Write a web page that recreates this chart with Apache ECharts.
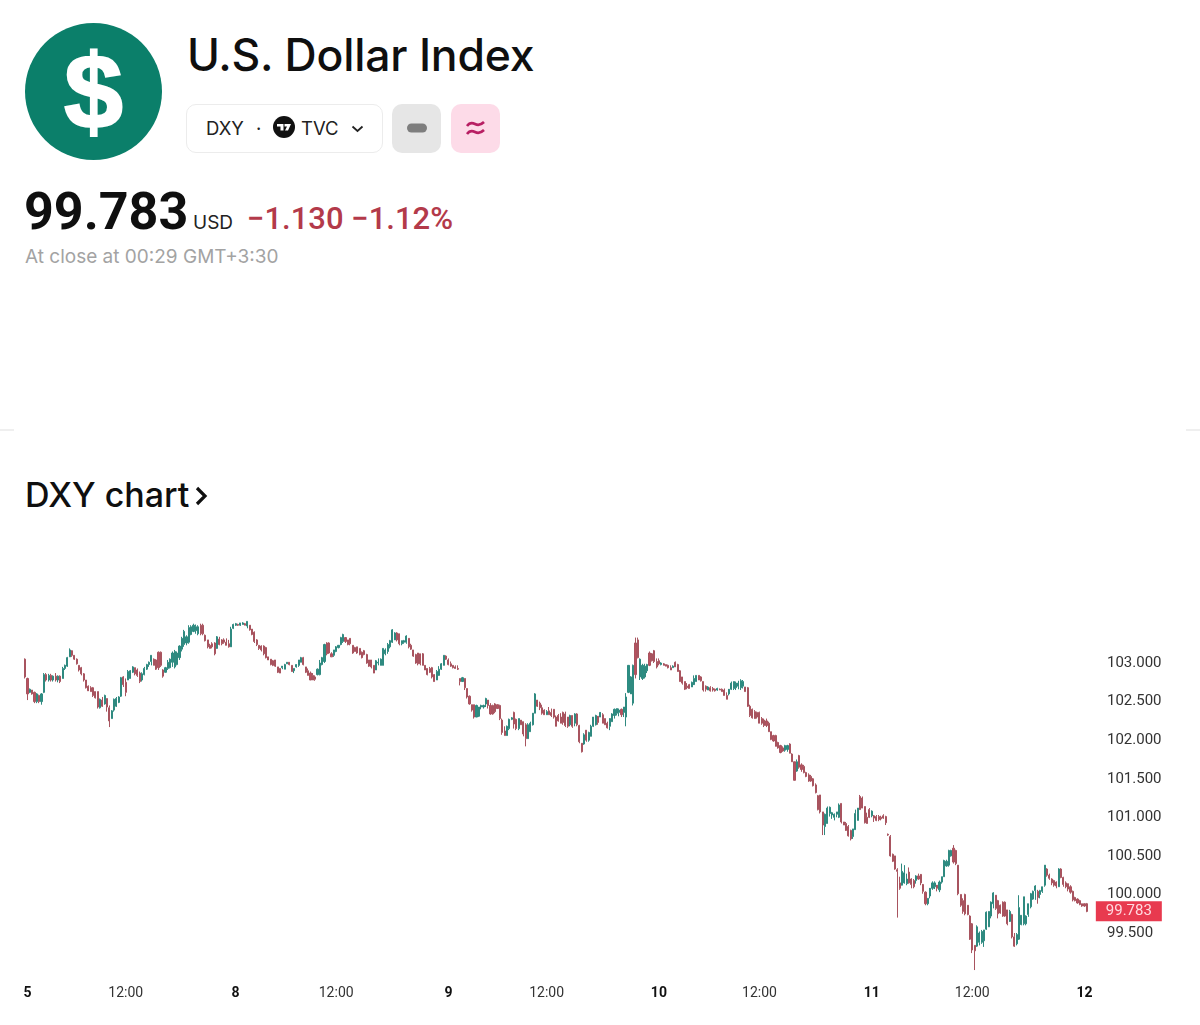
<!DOCTYPE html>
<html>
<head>
<meta charset="utf-8">
<title>DXY</title>
<script src="https://cdn.jsdelivr.net/npm/echarts@6/dist/echarts.min.js"></script>
<style>
html, body { margin: 0; padding: 0; background: #fff; }
#page { position: relative; width: 1200px; height: 1025px; overflow: hidden; font-family: Inter, "Noto Sans", sans-serif; color: #0f0f0f; }
#page > div, #page > svg { position: absolute; white-space: nowrap; }
#icon { left: 25px; top: 23px; width: 137px; height: 137px; border-radius: 50%; background: #0b7f6a; color: #fff; font: bold 106px/137px "Liberation Sans", sans-serif; text-align: center; -webkit-text-stroke: 2px #fff; }
#title { left: 187px; top: 29px; font-size: 44.5px; line-height: 52px; font-weight: 500; letter-spacing: -0.2px; }
#pill { left: 186px; top: 104px; width: 195px; height: 47px; border: 1px solid #ececec; border-radius: 10px; }
.pilltext { font-size: 18.5px; line-height: 24px; top: 116px; color: #222; }
.box { top: 104px; width: 49px; height: 49px; border-radius: 10px; }
#price { left: 24px; top: 181px; font-family: Roboto, sans-serif; font-size: 52px; line-height: 62px; font-weight: 700; }
#usd { left: 193px; top: 210px; font-size: 19px; line-height: 26px; color: #222; }
#change { left: 247px; top: 201px; font-family: Roboto, sans-serif; font-size: 31px; line-height: 36px; font-weight: 500; color: #b33a4a; }
#closed { left: 25px; top: 244px; font-size: 19px; line-height: 26px; color: #a3a3a3; }
#chartTitle { left: 25px; top: 473px; font-size: 34px; line-height: 44px; font-weight: 500; }
.rule { top: 429px; height: 2px; width: 14px; background: #efefef; }
#chart { left: 0; top: 560px; width: 1200px; height: 465px; }
</style>
</head>
<body>
<div id="page">
  <div id="icon">$</div>
  <div id="title">U.S. Dollar Index</div>
  <div id="pill"></div>
  <div class="pilltext" style="left:206px">DXY</div>
  <div class="pilltext" style="left:256px">·</div>
  <svg style="left:273px;top:116px" width="22" height="22" viewBox="0 0 22 22">
    <circle cx="11" cy="11" r="11" fill="#111"/>
    <path d="M4 8h6.5v6.5h-3v-4H4zM11.5 8h6.5l-3 6.5h-3l2-4h-2.5z" fill="#fff"/>
  </svg>
  <div class="pilltext" style="left:301px">TVC</div>
  <svg style="left:351px;top:125px" width="13" height="8" viewBox="0 0 13 8">
    <path d="M1.5 1.5L6.5 6L11.5 1.5" fill="none" stroke="#222" stroke-width="1.8"/>
  </svg>
  <div class="box" style="left:392px;background:#e6e6e6"></div>
  <svg style="left:407px;top:123px" width="20" height="10" viewBox="0 0 20 10">
    <rect x="0" y="0.5" width="20" height="9" rx="4.5" fill="#7e7e7e"/>
  </svg>
  <div class="box" style="left:451px;background:#fddbe8"></div>
  <svg style="left:465px;top:118px" width="21" height="20" viewBox="0 0 21 20">
    <path d="M2 8c3-4 6-3 8-2s5 2 9-2M2 16c3-4 6-3 8-2s5 2 9-2" fill="none" stroke="#b81f63" stroke-width="2.6"/>
  </svg>
  <div id="price">99.783</div>
  <div id="usd">USD</div>
  <div id="change">−1.130 −1.12%</div>
  <div id="closed">At close at 00:29 GMT+3:30</div>
  <div class="rule" style="left:0"></div>
  <div class="rule" style="left:1186px"></div>
  <div id="chartTitle">DXY chart</div>
  <svg style="left:194px;top:485px" width="14" height="22" viewBox="0 0 14 22">
    <path d="M3 3L11 11L3 19" fill="none" stroke="#0f0f0f" stroke-width="3.2"/>
  </svg>
  <div id="chart"></div>
</div>
<script>
// [open, close, low, high], 15 min candles
var day5 = [
[103.05,102.82,102.80,103.06],[102.80,102.60,102.52,102.81],[102.62,102.66,102.61,102.67],[102.65,102.60,102.59,102.65],[102.62,102.50,102.48,102.63],[102.50,102.60,102.48,102.61],[102.58,102.50,102.48,102.59],[102.50,102.60,102.46,102.61],
[102.62,102.85,102.61,102.87],[102.85,102.78,102.76,102.87],[102.78,102.84,102.76,102.86],[102.84,102.78,102.76,102.86],[102.78,102.83,102.76,102.84],[102.83,102.78,102.76,102.87],[102.78,102.83,102.75,102.84],[102.83,102.76,102.74,102.84],
[102.80,102.93,102.80,102.95],[102.93,102.97,102.91,102.98],[102.96,103.07,102.95,103.08],[103.08,103.17,103.08,103.19],[103.16,103.10,103.08,103.15],[103.10,103.05,103.04,103.10],[103.05,102.99,102.98,103.06],[102.97,102.91,102.89,102.97],
[102.94,102.86,102.84,102.95],[102.86,102.78,102.76,102.87],[102.78,102.68,102.67,102.78],[102.70,102.64,102.65,102.71],[102.68,102.63,102.63,102.70],[102.68,102.58,102.56,102.69],[102.63,102.55,102.54,102.63],[102.63,102.43,102.41,102.63],
[102.42,102.53,102.41,102.54],[102.52,102.44,102.43,102.56],[102.47,102.58,102.46,102.59],[102.54,102.43,102.37,102.54],[102.42,102.25,102.17,102.45],[102.28,102.38,102.28,102.39],[102.39,102.53,102.37,102.54],[102.44,102.54,102.43,102.56],
[102.49,102.56,102.48,102.57],[102.57,102.81,102.56,102.82],[102.82,102.72,102.69,102.83],[102.75,102.62,102.57,102.80],[102.78,102.89,102.78,102.91],[102.80,102.90,102.80,102.91],[102.88,102.95,102.87,102.96],[102.94,102.86,102.84,102.94],
[102.91,102.84,102.82,102.93],[102.87,102.76,102.74,102.89],[102.78,102.86,102.76,102.88],[102.85,102.93,102.84,102.95],[102.92,102.98,102.91,102.99],[102.98,103.01,102.95,103.02],[103.02,103.10,102.97,103.10],[103.05,102.97,102.97,103.06],[103.04,102.92,102.91,103.05],
[103.14,102.94,102.91,103.15],[103.14,102.97,102.95,103.15],[102.91,102.83,102.81,102.92],[102.88,102.94,102.89,102.95],[102.93,103.01,102.91,103.04],[102.94,103.05,102.93,103.06],[103.01,103.13,102.95,103.15],[102.95,103.15,102.93,103.17],
[102.98,103.13,102.97,103.15],[103.07,103.22,103.04,103.23],[103.18,103.32,103.15,103.34],[103.24,103.41,103.21,103.43],[103.26,103.34,103.23,103.36],[103.27,103.46,103.25,103.49],[103.37,103.47,103.36,103.49],[103.41,103.49,103.40,103.51],[103.42,103.47,103.38,103.50],
[103.38,103.47,103.36,103.49],[103.49,103.38,103.36,103.51],[103.49,103.38,103.36,103.51],[103.36,103.29,103.28,103.37],[103.30,103.21,103.19,103.30],[103.23,103.19,103.19,103.25],[103.25,103.21,103.19,103.27],[103.26,103.12,103.10,103.27],
[103.19,103.34,103.20,103.35],[103.31,103.24,103.23,103.34],[103.30,103.25,103.23,103.31],[103.30,103.27,103.25,103.32],[103.27,103.23,103.23,103.32],[103.25,103.21,103.20,103.30],[103.21,103.44,103.21,103.47],[103.45,103.50,103.44,103.51],[103.49,103.51,103.48,103.52],[103.50,103.49,103.48,103.51]
];
var day8 = [
[103.49,103.52,103.48,103.52],[103.50,103.52,103.50,103.53],[103.51,103.49,103.49,103.52],[103.48,103.54,103.45,103.54],[103.49,103.43,103.42,103.49],[103.44,103.37,103.36,103.44],[103.40,103.28,103.26,103.41],[103.30,103.24,103.22,103.31],[103.23,103.19,103.17,103.23],
[103.22,103.17,103.15,103.23],[103.22,103.12,103.10,103.23],[103.20,103.07,103.06,103.21],[103.08,103.04,103.04,103.08],[103.05,102.98,102.97,103.05],[103.03,102.97,102.96,103.04],[103.04,102.96,102.95,103.04],[102.95,102.88,102.87,102.95],[102.93,102.87,102.87,102.93],
[102.94,102.96,102.92,102.95],[102.92,102.98,102.92,102.99],[102.99,103.01,102.99,103.01],[103.01,102.98,102.97,103.01],[102.97,102.89,102.89,102.97],[102.90,102.93,102.87,102.93],[102.95,102.98,102.94,102.97],[102.97,103.04,102.95,103.04],
[103.01,103.07,103.01,103.08],[103.07,102.98,102.97,103.08],[102.95,102.88,102.87,102.95],[102.90,102.84,102.84,102.93],[102.87,102.78,102.78,102.89],[102.84,102.78,102.78,102.87],[102.82,102.79,102.77,102.84],[102.85,102.92,102.84,102.93],[102.85,103.00,102.84,103.04],
[102.98,103.07,102.97,103.08],[103.02,103.24,103.00,103.25],[103.26,103.12,103.10,103.27],[103.26,103.13,103.12,103.27],[103.12,103.08,103.08,103.14],[103.10,103.17,103.08,103.17],[103.15,103.21,103.14,103.22],[103.20,103.23,103.19,103.23],[103.24,103.33,103.23,103.34],[103.28,103.37,103.26,103.38],
[103.33,103.28,103.26,103.32],[103.30,103.24,103.23,103.30],[103.32,103.25,103.23,103.32],[103.23,103.13,103.12,103.23],[103.20,103.15,103.15,103.21],[103.21,103.13,103.12,103.21],[103.19,103.11,103.10,103.19],[103.14,103.07,103.06,103.15],
[103.16,103.11,103.10,103.17],[103.11,103.00,102.99,103.12],[103.04,102.96,102.95,103.04],[103.04,102.95,102.93,103.04],[102.97,102.87,102.89,102.97],[102.91,103.03,102.93,103.04],[103.00,103.01,102.97,103.06],[102.97,103.05,102.97,103.06],
[102.97,103.19,102.97,103.19],[103.12,103.17,103.10,103.19],[103.15,103.24,103.12,103.26],[103.21,103.29,103.19,103.30],[103.27,103.43,103.26,103.44],[103.30,103.39,103.30,103.40],[103.39,103.30,103.28,103.40],[103.38,103.25,103.23,103.38],
[103.25,103.29,103.23,103.29],[103.27,103.29,103.25,103.30],[103.27,103.35,103.25,103.36],[103.32,103.21,103.19,103.32],[103.23,103.18,103.17,103.25],[103.17,103.09,103.08,103.17],[103.11,103.00,102.99,103.12],[103.13,102.99,102.97,103.13],
[103.12,102.99,102.97,103.12],[103.12,102.97,102.97,103.13],[102.97,102.91,102.91,102.97],[102.93,102.85,102.84,102.93],[102.93,102.88,102.87,102.95],[102.94,102.82,102.80,102.95],[102.85,102.76,102.76,102.84],[102.78,102.89,102.80,102.91],
[102.84,102.92,102.89,102.96],[102.92,102.99,102.91,103.00],[102.97,103.10,102.97,103.10],[103.09,103.05,103.04,103.10],[103.04,102.98,102.97,103.06],[102.99,102.96,102.95,103.02]
];
var day9 = [
[102.97,102.94,102.93,102.97],[102.95,102.93,102.93,102.97],[102.93,102.92,102.91,102.97],
[102.80,102.76,102.71,102.80],[102.76,102.81,102.76,102.82],[102.80,102.68,102.65,102.80],[102.67,102.56,102.54,102.67],[102.57,102.47,102.46,102.58],[102.46,102.39,102.37,102.46],[102.46,102.30,102.28,102.46],[102.30,102.45,102.31,102.46],[102.31,102.43,102.30,102.43],
[102.43,102.45,102.40,102.46],[102.43,102.45,102.41,102.46],[102.47,102.54,102.43,102.55],[102.52,102.45,102.41,102.52],[102.45,102.34,102.33,102.48],[102.45,102.34,102.33,102.46],[102.47,102.37,102.35,102.48],[102.46,102.41,102.41,102.46],[102.45,102.28,102.26,102.46],[102.26,102.10,102.07,102.28],[102.12,102.06,102.06,102.18],[102.06,102.18,102.06,102.19],
[102.15,102.27,102.13,102.28],[102.27,102.29,102.26,102.30],[102.36,102.21,102.15,102.37],[102.27,102.15,102.13,102.28],[102.15,102.28,102.13,102.28],[102.26,102.20,102.20,102.26],[102.24,102.08,102.05,102.24],[102.20,102.02,101.92,102.22],[102.02,102.20,102.02,102.22],[102.11,102.22,102.11,102.24],[102.20,102.35,102.19,102.35],[102.35,102.60,102.35,102.61],
[102.52,102.44,102.43,102.52],[102.48,102.42,102.39,102.50],[102.42,102.35,102.33,102.46],[102.39,102.33,102.33,102.40],[102.33,102.37,102.33,102.39],[102.38,102.33,102.33,102.43],[102.36,102.32,102.30,102.41],[102.40,102.30,102.28,102.40],[102.30,102.18,102.18,102.32],[102.32,102.25,102.24,102.34],[102.30,102.22,102.22,102.35],[102.36,102.23,102.20,102.37],[102.34,102.19,102.17,102.37],
[102.30,102.18,102.16,102.30],[102.20,102.32,102.18,102.33],[102.32,102.18,102.16,102.32],[102.22,102.34,102.18,102.35],[102.34,102.20,102.18,102.35],[102.19,101.98,101.96,102.20],[101.96,101.85,101.84,101.96],[101.95,102.07,101.94,102.09],[102.13,102.00,101.98,102.13],[102.00,102.10,101.98,102.11],[102.05,102.18,102.05,102.20],[102.18,102.30,102.17,102.30],
[102.20,102.32,102.19,102.33],[102.31,102.23,102.20,102.30],[102.30,102.36,102.33,102.35],[102.33,102.22,102.22,102.35],[102.28,102.20,102.20,102.28],[102.22,102.16,102.15,102.24],[102.18,102.28,102.13,102.26],[102.24,102.34,102.24,102.35],[102.32,102.40,102.28,102.41],[102.35,102.41,102.32,102.41],[102.36,102.39,102.31,102.41],[102.40,102.33,102.30,102.41],[102.36,102.43,102.30,102.43],
[102.30,102.56,102.18,102.61],[102.62,102.97,102.61,102.97],[102.60,102.82,102.61,102.83],[102.48,102.97,102.45,102.98],[103.26,102.85,102.80,103.33],[103.30,103.07,103.06,103.33],[102.82,103.05,102.78,103.06],[102.80,102.97,102.78,102.99],[102.82,102.96,102.80,102.99],[102.90,102.98,102.87,102.99],[103.13,102.97,102.96,103.15],[103.12,103.03,103.02,103.13],
[103.16,103.02,103.00,103.17],[103.02,102.95,102.93,103.06],[103.03,102.99,102.97,103.06],[102.98,103.00,102.97,103.01]
];
var day10 = [
[102.99,102.97,102.97,103.00],[102.98,102.96,102.97,102.98],[102.97,102.94,102.93,102.98],[102.94,102.91,102.91,102.97],[102.94,102.96,102.94,102.97],[103.01,102.95,102.95,103.02],[102.98,102.89,102.89,102.99],[102.90,102.76,102.76,102.91],
[102.82,102.74,102.72,102.82],[102.76,102.66,102.65,102.76],[102.70,102.68,102.66,102.74],[102.72,102.67,102.67,102.73],[102.69,102.75,102.69,102.76],[102.72,102.80,102.76,102.84],[102.76,102.84,102.76,102.84],[102.84,102.78,102.78,102.84],[102.82,102.77,102.76,102.83],[102.76,102.65,102.63,102.76],
[102.70,102.66,102.63,102.71],[102.65,102.69,102.65,102.70],[102.68,102.64,102.63,102.70],[102.67,102.65,102.63,102.69],[102.66,102.64,102.63,102.67],[102.65,102.67,102.64,102.68],[102.66,102.65,102.65,102.67],[102.66,102.63,102.63,102.67],[102.65,102.58,102.58,102.67],[102.58,102.53,102.53,102.62],[102.60,102.66,102.58,102.65],[102.66,102.74,102.65,102.76],[102.67,102.76,102.65,102.76],
[102.68,102.74,102.65,102.76],[102.70,102.74,102.66,102.77],[102.68,102.77,102.65,102.79],[102.70,102.76,102.67,102.78],[102.69,102.63,102.63,102.69],[102.68,102.44,102.43,102.69],[102.44,102.32,102.30,102.46],[102.40,102.29,102.28,102.41],[102.37,102.28,102.28,102.39],[102.36,102.30,102.28,102.37],[102.36,102.22,102.22,102.37],[102.28,102.22,102.20,102.30],[102.26,102.19,102.17,102.28],[102.25,102.19,102.17,102.28],
[102.22,102.11,102.11,102.24],[102.11,102.01,102.00,102.11],[102.06,101.99,101.98,102.07],[102.06,101.92,101.92,102.07],[101.97,101.90,101.89,101.98],[101.93,101.84,101.83,101.94],[101.90,101.86,101.85,101.92],[101.87,101.93,101.85,101.94],[101.88,101.93,101.85,101.94],[101.95,101.83,101.83,101.96],[101.82,101.72,101.72,101.83],[101.72,101.48,101.48,101.72],[101.60,101.72,101.59,101.75],[101.80,101.65,101.63,101.81],
[101.68,101.62,101.59,101.70],[101.66,101.58,101.57,101.68],[101.58,101.53,101.52,101.59],[101.55,101.47,101.46,101.57],[101.53,101.47,101.46,101.55],[101.50,101.41,101.40,101.51],[101.42,101.32,101.31,101.44],[101.28,101.10,101.09,101.29],[101.29,101.07,101.05,101.29],[101.07,100.90,100.77,101.07],[100.88,101.04,100.77,101.05],[100.92,101.12,100.92,101.14],[101.05,101.13,101.01,101.14],[101.03,101.06,100.98,101.07],
[101.00,101.04,100.96,101.05],[101.04,101.07,101.00,101.07],[101.00,101.16,100.99,101.18],[101.18,100.94,100.92,101.18],[100.94,100.90,100.90,100.94],[100.92,100.83,100.84,100.94],[100.88,100.76,100.75,100.90],[100.83,100.72,100.70,100.84],[100.75,100.85,100.72,100.85],[100.84,101.05,100.84,101.10],[100.96,101.12,100.96,101.12],[101.27,101.10,101.10,101.29],[101.25,101.12,101.14,101.27],[101.14,100.93,100.92,101.14],[101.00,100.92,100.92,101.06],
[101.10,101.00,100.99,101.12],[101.02,101.08,101.00,101.09],[101.02,100.99,100.94,101.03],[101.01,100.96,100.95,101.03],[101.01,100.97,100.95,101.03],[101.00,100.98,100.96,101.02],[101.02,100.99,100.98,101.04],[101.01,100.93,100.90,101.02]
];
var day11 = [
[100.78,100.77,100.76,100.79],[100.75,100.50,100.49,100.77],[100.52,100.43,100.42,100.53],[100.50,100.33,100.32,100.50],[100.32,100.30,99.70,100.34],[100.15,100.08,100.06,100.23],[100.12,100.30,100.14,100.40],[100.15,100.28,100.14,100.38],[100.14,100.20,100.12,100.27],[100.29,100.15,100.14,100.35],[100.20,100.13,100.08,100.21],[100.18,100.10,100.08,100.20],[100.18,100.24,100.14,100.25],[100.24,100.20,100.19,100.27],[100.26,100.15,100.12,100.25],[100.13,100.04,100.01,100.12],[100.03,99.88,99.86,100.04],[99.88,99.95,99.86,99.95],[99.98,100.08,99.95,100.05],[100.08,100.15,100.06,100.17],
[100.10,100.15,100.07,100.17],[100.12,100.08,100.04,100.11],[100.06,100.16,100.03,100.18],[100.16,100.23,100.14,100.23],[100.23,100.44,100.23,100.45],[100.37,100.43,100.36,100.45],[100.38,100.57,100.36,100.58],[100.50,100.57,100.49,100.58],[100.60,100.42,100.40,100.64],[100.57,100.40,100.38,100.58],[100.38,100.01,99.99,100.38],[100.00,99.86,99.84,100.00],
[99.92,99.78,99.75,99.95],[100.00,99.75,99.73,100.01],[99.86,99.74,99.73,99.86],[99.72,99.42,99.41,99.73],[99.62,99.28,99.24,99.63],[99.34,99.27,99.02,99.34],[99.33,99.58,99.32,99.60],[99.38,99.50,99.34,99.52],[99.38,99.52,99.36,99.54],[99.40,99.54,99.32,99.54],[99.55,99.77,99.54,99.78],[99.58,99.78,99.58,99.78],
[99.72,99.90,99.69,99.91],[99.88,100.02,99.82,100.03],[99.99,99.82,99.80,99.99],[99.92,99.75,99.69,99.93],[99.86,99.76,99.75,99.87],[99.90,99.72,99.71,99.91],[99.90,99.72,99.71,99.91],[99.80,99.62,99.60,99.80],[99.65,99.78,99.67,99.80],[99.74,99.45,99.43,99.75],[99.45,99.33,99.32,99.50],[99.36,99.48,99.34,99.50],[99.42,99.83,99.41,99.99],[99.61,99.73,99.60,99.73],
[99.62,99.97,99.60,99.97],[99.62,99.72,99.60,99.73],[99.74,99.88,99.71,99.88],[99.84,100.01,99.82,100.02],[99.94,100.04,99.93,100.05],[100.05,100.11,99.93,100.12],[100.04,99.96,99.88,100.06],[100.00,100.05,99.95,100.06],[100.04,100.10,100.02,100.10],[100.12,100.38,100.10,100.38],[100.33,100.25,100.23,100.34],[100.25,100.21,100.19,100.27],[100.20,100.15,100.12,100.21],[100.18,100.12,100.10,100.19],
[100.16,100.11,100.08,100.17],[100.10,100.33,100.10,100.34],[100.33,100.22,100.21,100.34],[100.22,100.13,100.10,100.23],[100.15,100.10,100.08,100.17],[100.14,100.07,100.04,100.14],[100.10,100.03,100.01,100.12],[100.04,99.93,99.91,100.05],[99.96,99.92,99.91,99.97],[99.94,99.89,99.88,99.95],[99.92,99.87,99.86,99.93],[99.88,99.85,99.84,99.88],[99.88,99.85,99.84,99.88],[99.88,99.78,99.77,99.89]
];
var lastPrice = 99.783;
var tickIndexes = [1, 43, 90, 133, 181, 223, 271, 314, 362, 405, 453];
var tickLabels = ['5', '12:00', '8', '12:00', '9', '12:00', '10', '12:00', '11', '12:00', '12'];

var candles = day5.concat(day8, day9, day10, day11);
var categories = candles.map(function (c, i) {
    var pos = tickIndexes.indexOf(i);
    return pos >= 0 ? tickLabels[pos] : '';
});

var chart = echarts.init(document.getElementById('chart'));
chart.setOption({
    animation: false,
    grid: { left: 24, right: 112, top: 25.9, height: 385.7 },
    xAxis: {
        type: 'category',
        data: categories,
        axisLine: { show: false },
        axisTick: { show: false },
        splitLine: { show: false },
        axisLabel: {
            interval: function (index, value) { return value !== ''; },
            margin: 15,
            hideOverlap: false,
            fontFamily: 'Roboto',
            fontSize: 14,
            color: '#333',
            formatter: function (value) {
                return value.indexOf(':') >= 0 ? value : '{day|' + value + '}';
            },
            rich: { day: { fontFamily: 'Roboto', fontSize: 14, fontWeight: 'bold', color: '#111' } }
        }
    },
    yAxis: {
        type: 'value',
        position: 'right',
        min: 99,
        max: 104,
        interval: 0.5,
        splitLine: { show: false },
        axisLine: { show: false },
        axisTick: { show: false },
        axisLabel: {
            margin: 19,
            align: 'left',
            verticalAlignMaxLabel: 'middle',
            lineHeight: 18,
            padding: [2, 0, 0, 0],
            fontFamily: 'Roboto',
            fontSize: 15,
            color: '#333',
            formatter: function (value) {
                return value < 99.5 || value > 103 ? '' : value.toFixed(3);
            }
        }
    },
    series: [{
        type: 'candlestick',
        data: candles,
        barWidth: 1.6,
        large: false,
        progressive: 0,
        itemStyle: {
            color: '#2a8f84',
            color0: '#b9505f',
            borderColor: '#2f8a80',
            borderColor0: '#a8545f',
            borderWidth: 1
        },
        markPoint: {
            silent: true,
            data: [{ coord: [candles.length - 1, lastPrice] }],
            symbol: 'rect',
            symbolSize: [66, 20],
            symbolOffset: [42, 0],
            itemStyle: { color: '#e83a4f' },
            label: {
                show: true,
                position: 'inside',
                formatter: function () { return lastPrice.toFixed(3); },
                fontFamily: 'Roboto',
                fontSize: 15,
                color: '#ffd9df'
            }
        }
    }]
});
</script>
</body>
</html>
